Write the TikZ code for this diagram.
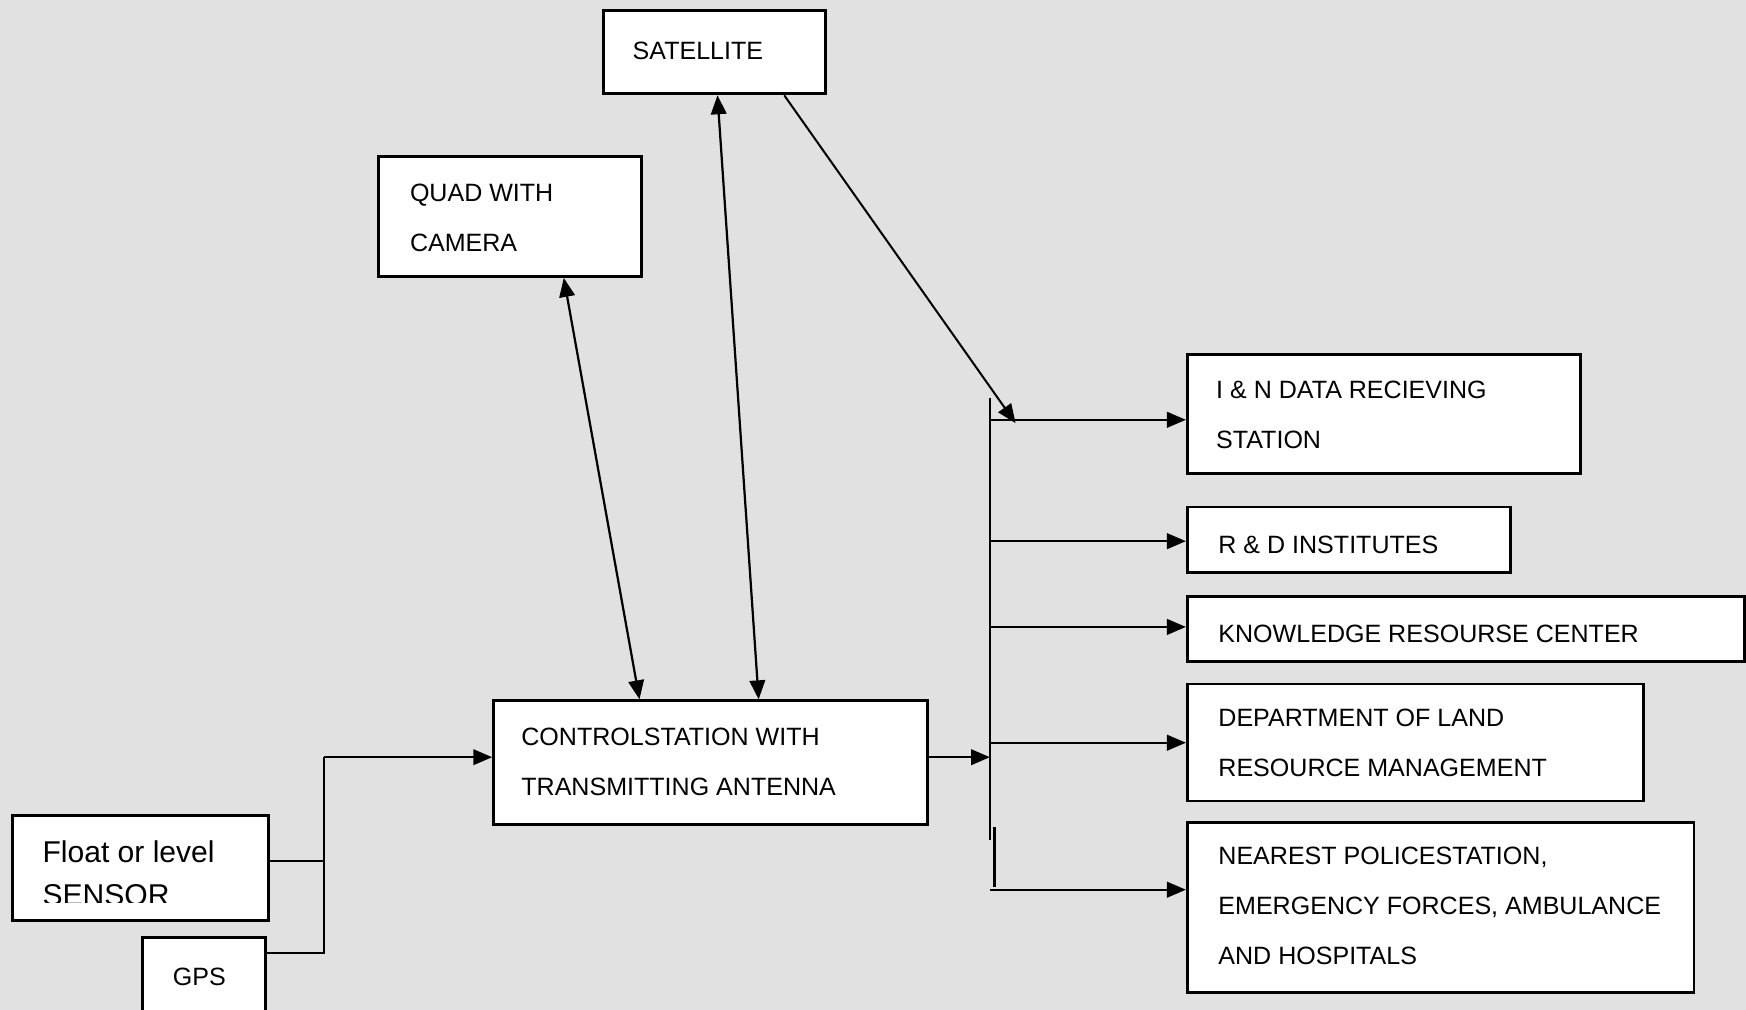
\documentclass[tikz,border=0pt]{standalone}
\usepackage{fontspec}
\setmainfont{Liberation Sans}
\usetikzlibrary{arrows.meta}
\definecolor{bgc}{RGB}{225,225,225}
\begin{document}
\begin{tikzpicture}[x=1pt,y=-1pt,
  panel/.style={draw=black, line width=2.6pt, fill=white, anchor=north west, inner sep=0pt},
  lbl/.style={anchor=west, align=left, inner sep=0pt, font=\fontsize{22.5}{45}\selectfont},
  wire/.style={line width=2.2pt},
  tip/.style={-{Triangle[length=17pt,width=14pt]}, line width=2pt},
  both/.style={{Triangle[length=17pt,width=14pt]}-{Triangle[length=17pt,width=14pt]}, line width=2pt}]

% canvas
\clip (0,0) rectangle (1568,907);
\fill[bgc] (0,0) rectangle (1568,907);

% boxes
\node[panel, minimum width=199pt, minimum height=75pt] (sat) at (541,8) {};
\node[lbl] (satt) at ([xshift=27pt, yshift=1.5pt]sat.west) {SATELLITE};

\node[panel, minimum width=236pt, minimum height=108pt] (quad) at (339,139) {};
\node[lbl] (quadt) at ([xshift=29pt, yshift=-1.5pt]quad.west) {QUAD WITH\\CAMERA};

\node[panel, minimum width=390pt, minimum height=111pt] (ctrl) at (442,628) {};
\node[lbl] (ctrlt) at ([xshift=26pt, yshift=1pt]ctrl.west) {CONTROLSTATION WITH\\TRANSMITTING ANTENNA};

\node[panel, minimum width=230pt, minimum height=94pt] (flt) at (10,731) {};
\begin{scope}
  \clip (12,733) rectangle (238,810.5);
  \node[anchor=north west, align=left, inner sep=0pt, font=\fontsize{27}{38}\selectfont] (fltt) at (38,755) {Float or level\\SENSOR};
\end{scope}

\node[panel, minimum width=110pt, minimum height=100pt] (gps) at (127,841) {};
\node[lbl, anchor=center] (gpst) at (179,877) {GPS};

\node[panel, minimum width=353pt, minimum height=107pt] (ind) at (1065,317) {};
\node[lbl] (indt) at ([xshift=27pt, yshift=-1pt]ind.west) {I \& N DATA RECIEVING\\STATION};

\node[panel, minimum width=290pt, minimum height=59pt] (rnd) at (1065,454) {};
\node[lbl] (rndt) at ([xshift=29pt, yshift=-4.5pt]rnd.west) {R \& D INSTITUTES};

\node[panel, minimum width=500pt, minimum height=59pt] (know) at (1065,534) {};
\node[lbl] (knowt) at ([xshift=29pt, yshift=-4.5pt]know.west) {KNOWLEDGE RESOURSE CENTER};

\node[panel, minimum width=410pt, minimum height=105pt] (dept) at (1065,613) {};
\node[lbl] (deptt) at ([xshift=29pt]dept.west) {DEPARTMENT OF LAND\\RESOURCE MANAGEMENT};

\node[panel, minimum width=455pt, minimum height=153pt] (near) at (1065,737) {};
\node[lbl] (neart) at ([xshift=29pt, yshift=1.5pt]near.west) {NEAREST POLICESTATION,\\EMERGENCY FORCES, AMBULANCE\\AND HOSPITALS};

% links to the satellite and the quad
\draw[both] ([xshift=48pt]quad.south) -- ([xshift=-64pt]ctrl.north);
\draw[both] ([xshift=2.5pt]sat.south) -- ([xshift=43pt]ctrl.north);
\coordinate (sattip) at (912,380);
\draw[tip, line width=1.8pt] ([xshift=62.5pt]sat.south) -- (sattip);

% sensor bus on the left
\coordinate (lbt) at (291,680);
\coordinate (lbf) at (291,773);
\coordinate (lbg) at (291,856);
\draw[wire] (flt.east |- lbf) -- (lbf);
\draw[wire] (gps.east |- lbg) -- (lbg) -- (lbt);
\draw[tip] (lbt) -- (ctrl.west |- lbt);

% distribution bus on the right
\coordinate (rbc) at (889,680);
\coordinate (rbtop) at (889,357);
\coordinate (rbend) at (889,754);
\coordinate (rb1) at (889,377);
\coordinate (rb2) at (889,486);
\coordinate (rb3) at (889,563);
\coordinate (rb4) at (889,667);
\coordinate (rb5) at (889,799);
\coordinate (stubA) at (893,743);
\coordinate (stubB) at (893,797);
\draw[tip] (ctrl.east |- rbc) -- (rbc);
\draw[wire] (rbtop) -- (rbend);
\draw[line width=3.2pt] (stubA) -- (stubB);
\draw[tip] (rb1) -- (ind.west |- rb1);
\draw[tip] (rb2) -- (rnd.west |- rb2);
\draw[tip] (rb3) -- (know.west |- rb3);
\draw[tip] (rb4) -- (dept.west |- rb4);
\draw[tip] (rb5) -- (near.west |- rb5);
\end{tikzpicture}
\end{document}
